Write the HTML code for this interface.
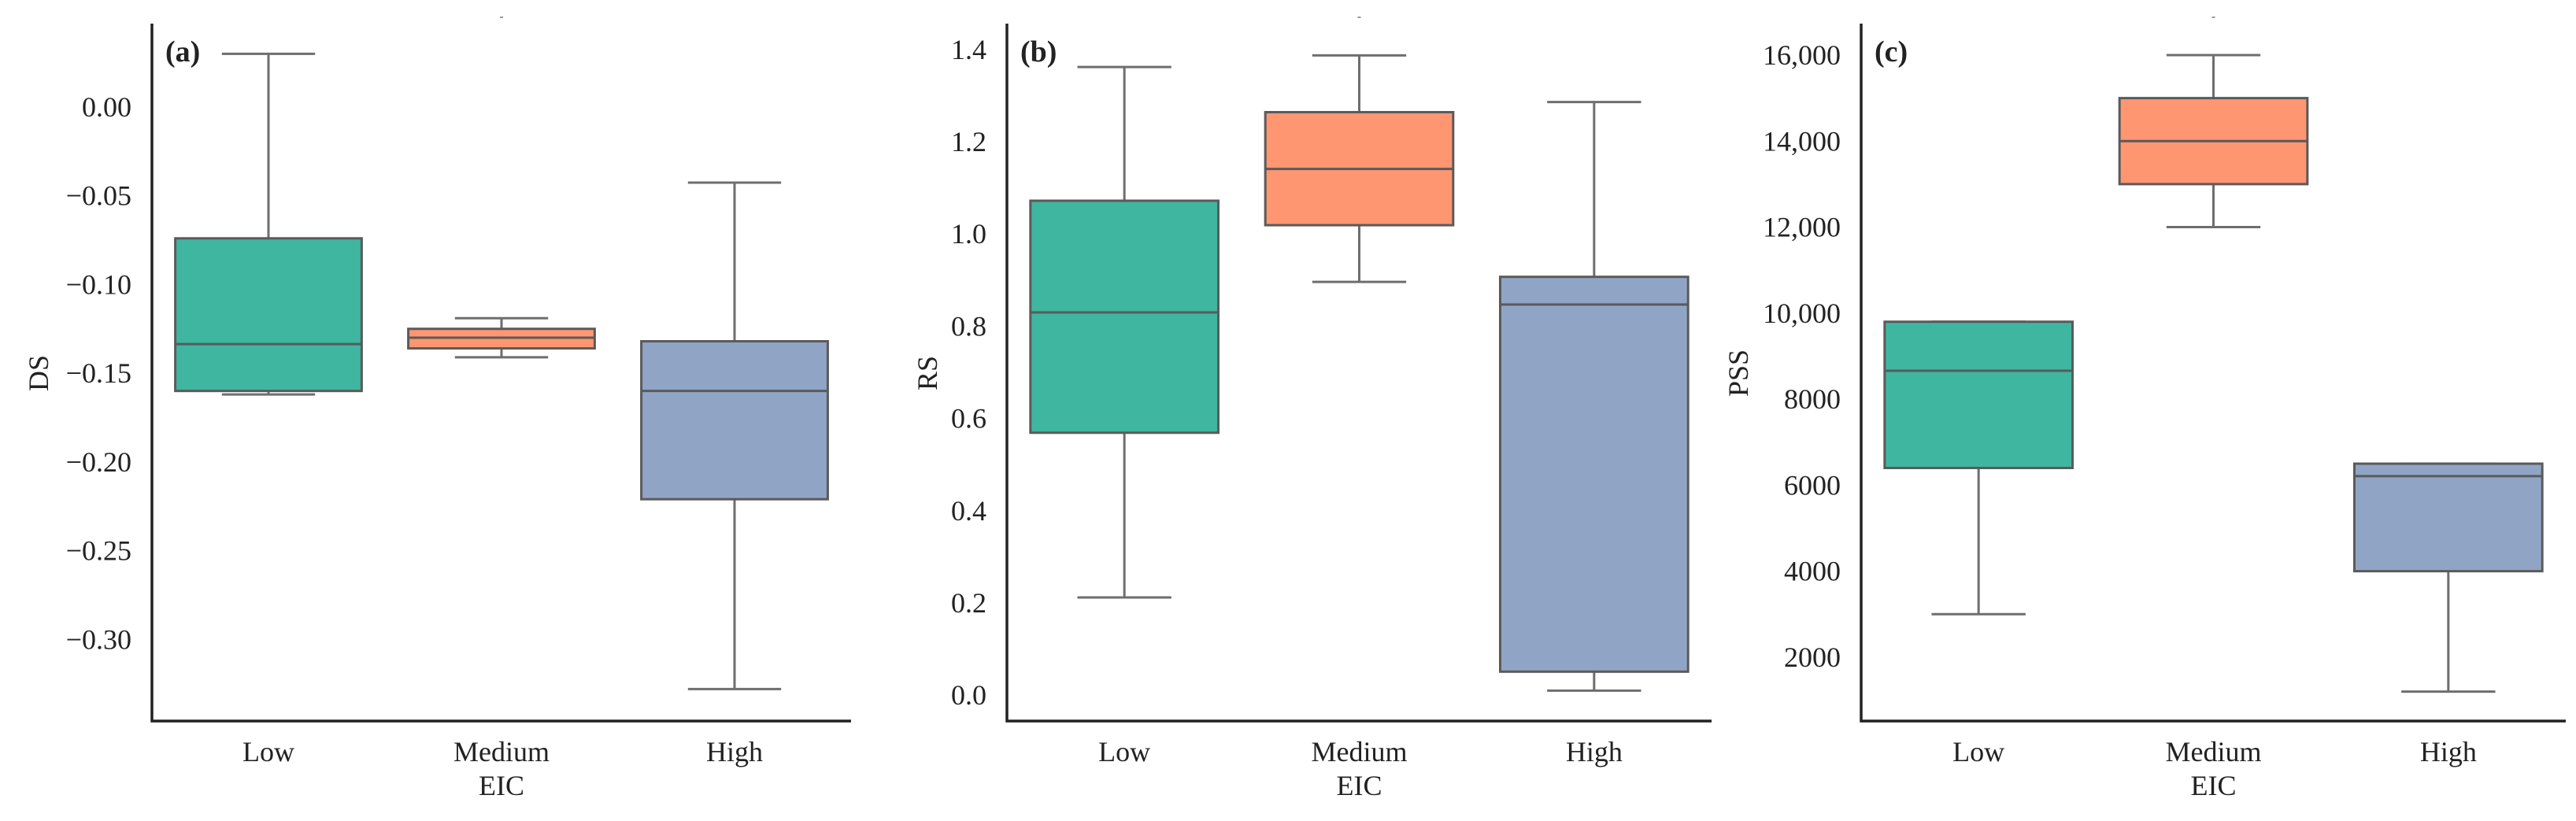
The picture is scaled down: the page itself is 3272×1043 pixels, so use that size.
<!DOCTYPE html>
<html><head><meta charset="utf-8">
<style>
html,body{margin:0;padding:0;background:#fff;}
svg{display:block;}
text{font-family:"Liberation Serif",serif;fill:#222;}
</style></head>
<body>
<svg id="chart" width="3272" height="1043" viewBox="0 0 3272 1043" xmlns="http://www.w3.org/2000/svg"></svg>
<script>
const categories = ["Low", "Medium", "High"];
const colors = ["#3fb6a0", "#fe9672", "#90a5c6"];
// DS panel (a): [whiskerLow, Q1, median, Q3, whiskerHigh]
const dsLow = [-0.162, -0.160, -0.1336, -0.074, 0.030];
const dsMedium = [-0.141, -0.136, -0.130, -0.125, -0.119];
const dsHigh = [-0.328, -0.221, -0.160, -0.132, -0.0426];
const dsTicks = [0.00, -0.05, -0.10, -0.15, -0.20, -0.25, -0.30];
const dsTickLabels = ["0.00", "\u22120.05", "\u22120.10", "\u22120.15", "\u22120.20", "\u22120.25", "\u22120.30"];
// RS panel (b)
const rsLow = [0.212, 0.569, 0.830, 1.072, 1.362];
const rsMedium = [0.896, 1.019, 1.141, 1.264, 1.387];
const rsHigh = [0.010, 0.051, 0.847, 0.907, 1.286];
const rsTicks = [0.0, 0.2, 0.4, 0.6, 0.8, 1.0, 1.2, 1.4];
const rsTickLabels = ["0.0", "0.2", "0.4", "0.6", "0.8", "1.0", "1.2", "1.4"];
// PSS panel (c)
const pssLow = [3000, 6400, 8660, 9800, 9800];
const pssMedium = [12000, 13000, 14000, 15000, 16000];
const pssHigh = [1200, 4000, 6210, 6500, 6500];
const pssTicks = [2000, 4000, 6000, 8000, 10000, 12000, 14000, 16000];
const pssTickLabels = ["2000", "4000", "6000", "8000", "10,000", "12,000", "14,000", "16,000"];

const NS = "http://www.w3.org/2000/svg";
const svg = document.getElementById("chart");
function mk(tag, attrs, parent) {
  const e = document.createElementNS(NS, tag);
  for (const k in attrs) e.setAttribute(k, attrs[k]);
  (parent || svg).appendChild(e);
  return e;
}

const panels = [
  {id:"a", x0:193, x1:1081, dom:[-0.346, 0.047], series:[dsLow, dsMedium, dsHigh], ticks:dsTicks, labels:dsTickLabels, title:"DS", titleX:61},
  {id:"b", x0:1279, x1:2174, dom:[-0.056, 1.456], series:[rsLow, rsMedium, rsHigh], ticks:rsTicks, labels:rsTickLabels, title:"RS", titleX:1190},
  {id:"c", x0:2364, x1:3259, dom:[516, 16732], series:[pssLow, pssMedium, pssHigh], ticks:pssTicks, labels:pssTickLabels, title:"PSS", titleX:2220}
];
const yTop = 30, yBot = 916;

panels.forEach(p => {
  const g = mk("g", {});
  
  
  const y = v => yBot - (v - p.dom[0]) / (p.dom[1] - p.dom[0]) * (yBot - yTop);
  const band = (p.x1 - p.x0) / categories.length;
  const xc = i => p.x0 + band * (i + 0.5);
  const bw = band * 0.8, cap = band * 0.2;

  // ticks
  p.ticks.forEach((t, i) => {
    const tx = mk("text", {x: p.x0 - 26, y: y(t) + 12, "font-size": 36, "text-anchor": "end"}, g);
    tx.textContent = p.labels[i];
    
    
  });
  // y title
  const yt = mk("text", {x: 0, y: 0, "font-size": 36, "text-anchor": "middle", transform: `translate(${p.titleX},474) rotate(-90)`}, g);
  yt.textContent = p.title;
  
  

  // boxes
  p.series.forEach((s, i) => {
    const bg = mk("g", {}, g);
    
    
    const c = xc(i);
    mk("line", {x1:c, x2:c, y1:y(s[4]), y2:y(s[3]), stroke:"#6e6e6e", "stroke-width":3}, bg);
    mk("line", {x1:c, x2:c, y1:y(s[1]), y2:y(s[0]), stroke:"#6e6e6e", "stroke-width":3}, bg);
    mk("line", {x1:c-cap, x2:c+cap, y1:y(s[4]), y2:y(s[4]), stroke:"#6e6e6e", "stroke-width":3}, bg);
    mk("line", {x1:c-cap, x2:c+cap, y1:y(s[0]), y2:y(s[0]), stroke:"#6e6e6e", "stroke-width":3}, bg);
    mk("rect", {x:c-bw/2, y:y(s[3]), width:bw, height:y(s[1])-y(s[3]), fill:colors[i], stroke:"#5a5a5a", "stroke-width":3}, bg);
    mk("line", {x1:c-bw/2, x2:c+bw/2, y1:y(s[2]), y2:y(s[2]), stroke:"#5a5a5a", "stroke-width":3}, bg);
    const xl = mk("text", {x:c, y:967, "font-size":36, "text-anchor":"middle"}, g);
    xl.textContent = categories[i];
    
    
  });

  // axes
  const ax = mk("path", {d:`M${p.x0} ${yTop} V${yBot} H${p.x1}`, fill:"none", stroke:"#222", "stroke-width":3.5}, g);
  
  
  const xt = mk("text", {x:(p.x0+p.x1)/2, y:1010, "font-size":36, "text-anchor":"middle"}, g);
  xt.textContent = "EIC";
  
  
  const pl = mk("text", {x:p.x0 + 17, y:78, "font-size":38, "font-weight":"bold"}, g);
  pl.textContent = "(" + p.id + ")";
  
  
  mk("line", {x1:(p.x0+p.x1)/2-2, x2:(p.x0+p.x1)/2+2, y1:22, y2:22, stroke:"#999", "stroke-width":2}, g);
});
</script>
</body></html>
